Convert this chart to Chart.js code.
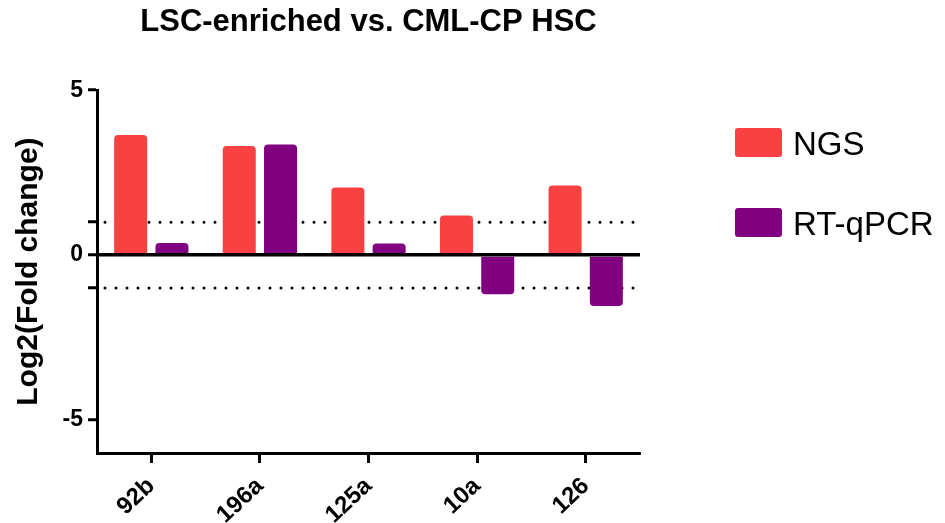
<!DOCTYPE html>
<html>
<head>
<meta charset="utf-8">
<script src="https://cdn.jsdelivr.net/npm/chart.js@4"></script>
<style>
  html, body { margin: 0; padding: 0; background: #fff; }
  #wrap { position: relative; width: 945px; height: 523px; }
  #legend { position: absolute; left: 735px; top: 128px; font-family: "Liberation Sans", Arial, sans-serif; font-size: 33px; color: #000; }
  .item { position: absolute; left: 0; height: 29px; white-space: nowrap; }
  .sw { position: absolute; left: 0; top: 0; width: 47px; height: 29px; border-radius: 3px; }
  .lb { position: absolute; left: 58px; top: 50%; transform: translateY(-50%); line-height: 1; }
</style>
</head>
<body>
<div id="wrap">
  <canvas id="c" width="945" height="523"></canvas>
  <div id="legend"></div>
</div>
<script>
const categories = ['92b', '196a', '125a', '10a', '126'];
const ngsValues = [3.64, 3.31, 2.05, 1.20, 2.11];
const rtqpcrValues = [0.37, 3.35, 0.35, -1.19, -1.54];
const seriesNames = ['NGS', 'RT-qPCR'];
const seriesColors = ['#F94141', '#800080'];
const yTickValues = [-5, -1, 0, 1, 5];
const yTickLabels = ['-5', '', '0', '', '5'];
const thresholdValues = [1, -1];

const FONT = '"Liberation Sans", Arial, Helvetica, sans-serif';

const dottedLines = {
  id: 'dottedLines',
  beforeDatasetsDraw(chart) {
    const {ctx, chartArea, scales} = chart;
    ctx.save();
    ctx.strokeStyle = '#000';
    ctx.lineWidth = 3;
    ctx.lineCap = 'round';
    ctx.setLineDash([0, 11]);
    thresholdValues.forEach(v => {
      const y = scales.y.getPixelForValue(v);
      ctx.beginPath();
      ctx.moveTo(chartArea.left + 8, y);
      ctx.lineTo(chartArea.right, y);
      ctx.stroke();
    });
    ctx.restore();
  }
};

const chart = new Chart(document.getElementById('c'), {
  type: 'bar',
  data: {
    labels: categories,
    datasets: [
      { label: seriesNames[0], data: ngsValues, backgroundColor: seriesColors[0], borderRadius: 4 },
      { label: seriesNames[1], data: rtqpcrValues, backgroundColor: seriesColors[1], borderRadius: 4 }
    ]
  },
  options: {
    responsive: false,
    animation: false,
    devicePixelRatio: 1,
    layout: { padding: { left: 0, right: 305, top: 0, bottom: 0 } },
    datasets: { bar: { categoryPercentage: 0.76, barPercentage: 0.8 } },
    plugins: {
      legend: { display: false },
      tooltip: { enabled: false },
      title: {
        display: true,
        text: 'LSC-enriched vs. CML-CP HSC',
        fullSize: false,
        color: '#000',
        font: { family: FONT, size: 31, weight: 'bold', lineHeight: 1.2 },
        padding: { top: 4, bottom: 49 }
      }
    },
    scales: {
      x: {
        afterFit(scale) { scale.height = 70; },
        border: { display: true, color: '#000', width: 3 },
        grid: { offset: false, drawOnChartArea: false, drawTicks: true, tickLength: 10, tickWidth: 3, tickColor: '#000', color: '#000' },
        ticks: {
          color: '#000',
          minRotation: 43, maxRotation: 43,
          padding: 9,
          font: { family: FONT, size: 24, weight: 'bold' }
        }
      },
      y: {
        min: -6, max: 5,
        afterFit(scale) { scale.width = 97; },
        afterBuildTicks(scale) { scale.ticks = yTickValues.map(v => ({ value: v })); },
        border: { display: true, color: '#000', width: 3, z: 1 },
        grid: {
          z: 1,
          drawOnChartArea: true,
          color: ctx => (ctx.tick && ctx.tick.value === 0) ? '#000' : 'rgba(0,0,0,0)',
          lineWidth: 3.5,
          tickColor: '#000',
          tickWidth: 3,
          tickLength: 9
        },
        ticks: {
          color: '#000',
          padding: 5,
          font: { family: FONT, size: 23, weight: 'bold' },
          callback: (v) => { const i = yTickValues.indexOf(v); return i >= 0 ? yTickLabels[i] : ''; }
        },
        title: {
          display: true,
          text: 'Log2(Fold change)',
          color: '#000',
          font: { family: FONT, size: 30, weight: 'bold', lineHeight: 1.2 },
          padding: { top: 11, bottom: 0 }
        }
      }
    }
  },
  plugins: [dottedLines]
});

const legendEl = document.getElementById('legend');
chart.data.datasets.forEach((ds, i) => {
  const item = document.createElement('div');
  item.className = 'item';
  item.style.top = (i * 80) + 'px';
  const sw = document.createElement('span');
  sw.className = 'sw';
  sw.style.background = ds.backgroundColor;
  const lb = document.createElement('span');
  lb.className = 'lb';
  lb.textContent = ds.label;
  item.appendChild(sw);
  item.appendChild(lb);
  legendEl.appendChild(item);
});
</script>
</body>
</html>
